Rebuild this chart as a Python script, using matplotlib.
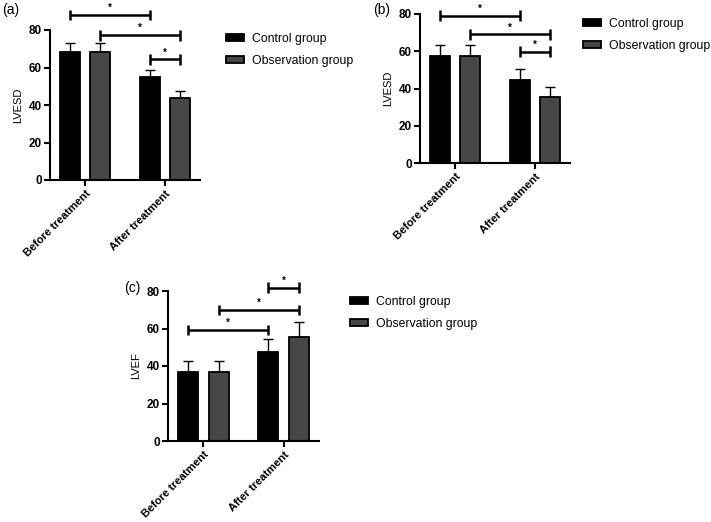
import numpy as np
from matplotlib import pyplot as plt

plt.rcParams['font.family'] = ['Liberation Sans', 'DejaVu Sans']

W, H = 711, 522

categories = ["Before treatment", "After treatment"]
series = ["Control group", "Observation group"]

# panel (a) LVESD
a_ctrl = [68.3, 54.7]
a_ctrl_sd = [5.0, 4.0]
a_obs = [68.3, 43.8]
a_obs_sd = [5.0, 3.8]

# panel (b) LVESD
b_ctrl = [57.5, 44.6]
b_ctrl_sd = [5.9, 5.8]
b_obs = [57.5, 35.7]
b_obs_sd = [5.9, 5.0]

# panel (c) LVEF
c_ctrl = [36.6, 47.3]
c_ctrl_sd = [6.2, 6.9]
c_obs = [36.8, 55.6]
c_obs_sd = [6.0, 7.7]

# significance brackets: (bar_from, bar_to, level); bars 0..3 = ctrl0, obs0, ctrl1, obs1
a_brackets = [(0, 2, 88.0), (1, 3, 77.3), (2, 3, 64.4)]
b_brackets = [(0, 2, 79.1), (1, 3, 69.1), (2, 3, 59.8)]
c_brackets = [(0, 2, 59.2), (1, 3, 69.9), (2, 3, 81.8)]

COLORS = ['#000000', '#474747']
OFFSET = 0.19
WIDTH = 0.25
TICK_H = 2.9


def px_axes(fig, left, top, right, bottom):
    return fig.add_axes([left / W, 1 - bottom / H, (right - left) / W, (bottom - top) / H])


def plot_panel(ax, ctrl, ctrl_sd, obs, obs_sd, brackets, ylabel):
    x = np.arange(len(categories))
    for i, (vals, sd) in enumerate([(ctrl, ctrl_sd), (obs, obs_sd)]):
        pos = x + (i * 2 - 1) * OFFSET
        ax.errorbar(pos, vals, yerr=[np.zeros(len(sd)), sd], fmt='none',
                    ecolor='black', elinewidth=1.0, capsize=3.6, capthick=1.0, zorder=1)
        ax.bar(pos, vals, WIDTH, color=COLORS[i], edgecolor='black',
               linewidth=1.3, label=series[i], zorder=2)
    centers = [x[0] - OFFSET, x[0] + OFFSET, x[1] - OFFSET, x[1] + OFFSET]
    for i0, i1, lev in brackets:
        x0, x1 = centers[i0], centers[i1]
        opts = {'color': 'black', 'linewidth': 1.8, 'clip_on': False,
                'solid_capstyle': 'butt'}
        ax.plot([x0, x1], [lev, lev], **opts)
        ax.plot([x0, x0], [lev - TICK_H, lev + TICK_H], **opts)
        ax.plot([x1, x1], [lev - TICK_H, lev + TICK_H], **opts)
        ax.text((x0 + x1) / 2, lev + 1.0, '*', ha='center', va='bottom',
                fontsize=7, fontweight='bold')

    ax.set_xlim(-0.44, 1.44)
    ax.set_ylim(0, 80)
    ax.set_yticks([0, 20, 40, 60, 80])
    ax.set_xticks(x)
    ax.set_xticklabels(categories, rotation=45, ha='right', rotation_mode='anchor',
                       fontsize=8, fontweight='bold')
    for lab in ax.get_yticklabels():
        lab.set_fontweight('bold')
        lab.set_fontsize(8.5)
    for s in ['top', 'right']:
        ax.spines[s].set_visible(False)
    for s in ['left', 'bottom']:
        ax.spines[s].set_linewidth(1.5)
    ax.tick_params(width=1.5, length=4, pad=2)
    ax.set_ylabel(ylabel, fontsize=8)


def add_legend(fig, ax, left, top):
    ax.legend(loc='upper left', bbox_to_anchor=(left / W, 1 - top / H),
              bbox_transform=fig.transFigure, frameon=False, fontsize=8.8,
              handlelength=1.45, handleheight=0.5, handletextpad=0.7,
              labelspacing=0.78, borderpad=0, borderaxespad=0)


fig = plt.figure(figsize=(W / 100, H / 100), dpi=100)

ax_a = px_axes(fig, 50, 30, 200, 180)
plot_panel(ax_a, a_ctrl, a_ctrl_sd, a_obs, a_obs_sd, a_brackets, 'LVESD')
add_legend(fig, ax_a, 226, 33)

ax_b = px_axes(fig, 420, 14, 570, 163)
plot_panel(ax_b, b_ctrl, b_ctrl_sd, b_obs, b_obs_sd, b_brackets, 'LVESD')
add_legend(fig, ax_b, 583, 18)

ax_c = px_axes(fig, 168, 291, 319, 441)
plot_panel(ax_c, c_ctrl, c_ctrl_sd, c_obs, c_obs_sd, c_brackets, 'LVEF')
add_legend(fig, ax_c, 350, 296)

fig.text(2 / W, 1 - 3 / H, '(a)', ha='left', va='top', fontsize=10)
fig.text(373 / W, 1 - 3 / H, '(b)', ha='left', va='top', fontsize=10)
fig.text(124 / W, 1 - 281 / H, '(c)', ha='left', va='top', fontsize=10)

fig.savefig('out.png', dpi=100)
